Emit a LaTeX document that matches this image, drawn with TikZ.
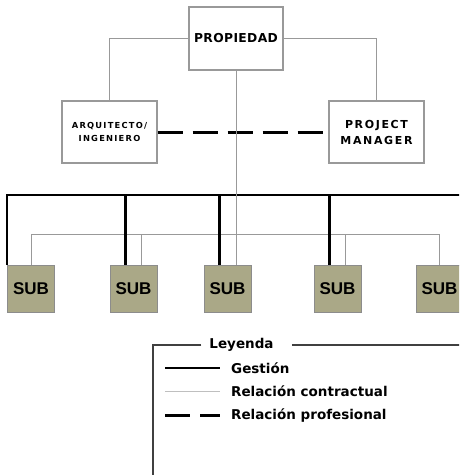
\documentclass[tikz,border=0pt]{standalone}
\usepackage{fontspec}
\newfontfamily\boxfont{Liberation Sans}
\newfontfamily\propfont[LetterSpace=3]{DejaVu Sans}
\newfontfamily\arqfont[LetterSpace=15]{DejaVu Sans}
\newfontfamily\pmfont[LetterSpace=15]{DejaVu Sans}
\newfontfamily\legfont{DejaVu Sans}
\definecolor{subfill}{HTML}{AAA887}

\begin{document}
\begin{tikzpicture}[x=1pt,y=-1pt,
    orgbox/.style={draw=gray!80,line width=1.2pt,fill=white,inner sep=0pt,
      minimum width=95pt,minimum height=62pt,align=center},
    subbox/.style={draw=gray!90,line width=1pt,fill=subfill,minimum size=47pt,inner sep=0pt,
      font=\boxfont\bfseries\fontsize{17}{17}\selectfont},
    mgmt/.style={black,line width=2.6pt},
    contract/.style={gray!80,line width=1pt},
    prof/.style={black,line width=3pt,dash pattern=on 25pt off 10pt},
    frame/.style={black!75,line width=1.2pt},
    legtext/.style={anchor=west,inner sep=0pt,font=\legfont\bfseries\fontsize{13.5}{16}\selectfont}]
  \useasboundingbox (0,0) rectangle (459,475);
  \clip (0,0) rectangle (459,475);

  \node[orgbox,minimum width=94pt,minimum height=63pt,
    font=\propfont\bfseries\fontsize{12.3}{15}\selectfont] (prop) at (236,38.5) {PROPIEDAD};
  \node[orgbox,font=\arqfont\bfseries\fontsize{8.3}{13}\selectfont] (arq) at (109.5,132)
    {ARQUITECTO/\\INGENIERO};
  \node[orgbox,font=\pmfont\bfseries\fontsize{11}{16}\selectfont] (pm) at (376.5,132)
    {PROJECT\\MANAGER};
  \foreach \x [count=\i] in {31,133.5,227.5,337.5,439.5}
    \node[subbox] (sub\i) at (\x,288.5) {SUB};

  \coordinate (mbus) at (470,195);
  \coordinate (cbus) at (0,234);

  \draw[contract] (prop.west) -| (arq.north);
  \draw[contract] (prop.east) -| (pm.north);
  \draw[prof] (arq.east) -- (pm.west);

  \draw[contract] (sub1.north) |- (cbus -| sub5.north) -- (sub5.north);
  \foreach \i in {2,4}
    \draw[contract] ([xshift=8pt]sub\i.north) -- ([xshift=8pt]sub\i.north |- cbus);
  \draw[mgmt] (sub1.north west) |- (mbus);
  \foreach \i in {2,3,4}
    \draw[mgmt] ([xshift=-8pt]sub\i.north) -- ([xshift=-8pt]sub\i.north |- mbus);
  \draw[contract] (prop.south) -- (prop.south |- sub3.north);

  % leyenda
  \node[legtext,anchor=center] (lgtitle) at (241.5,345) {Leyenda};
  \draw[frame] ([xshift=-8pt]lgtitle.west) -- (153,345) -- (153,480);
  \draw[frame] ([xshift=18pt]lgtitle.east) -- (470,345);
  \node[legtext] (lg1) at (231,368) {Gestión};
  \node[legtext] (lg2) at (231,391) {Relación contractual};
  \node[legtext] (lg3) at (231,415) {Relación profesional};
  \draw[mgmt] ([xshift=-66pt]lg1.west) -- ([xshift=-11pt]lg1.west);
  \draw[contract,gray!50] ([xshift=-66pt]lg2.west) -- ([xshift=-11pt]lg2.west);
  \draw[prof] ([xshift=-66pt]lg3.west) -- ([xshift=-11pt]lg3.west);
\end{tikzpicture}
\end{document}
